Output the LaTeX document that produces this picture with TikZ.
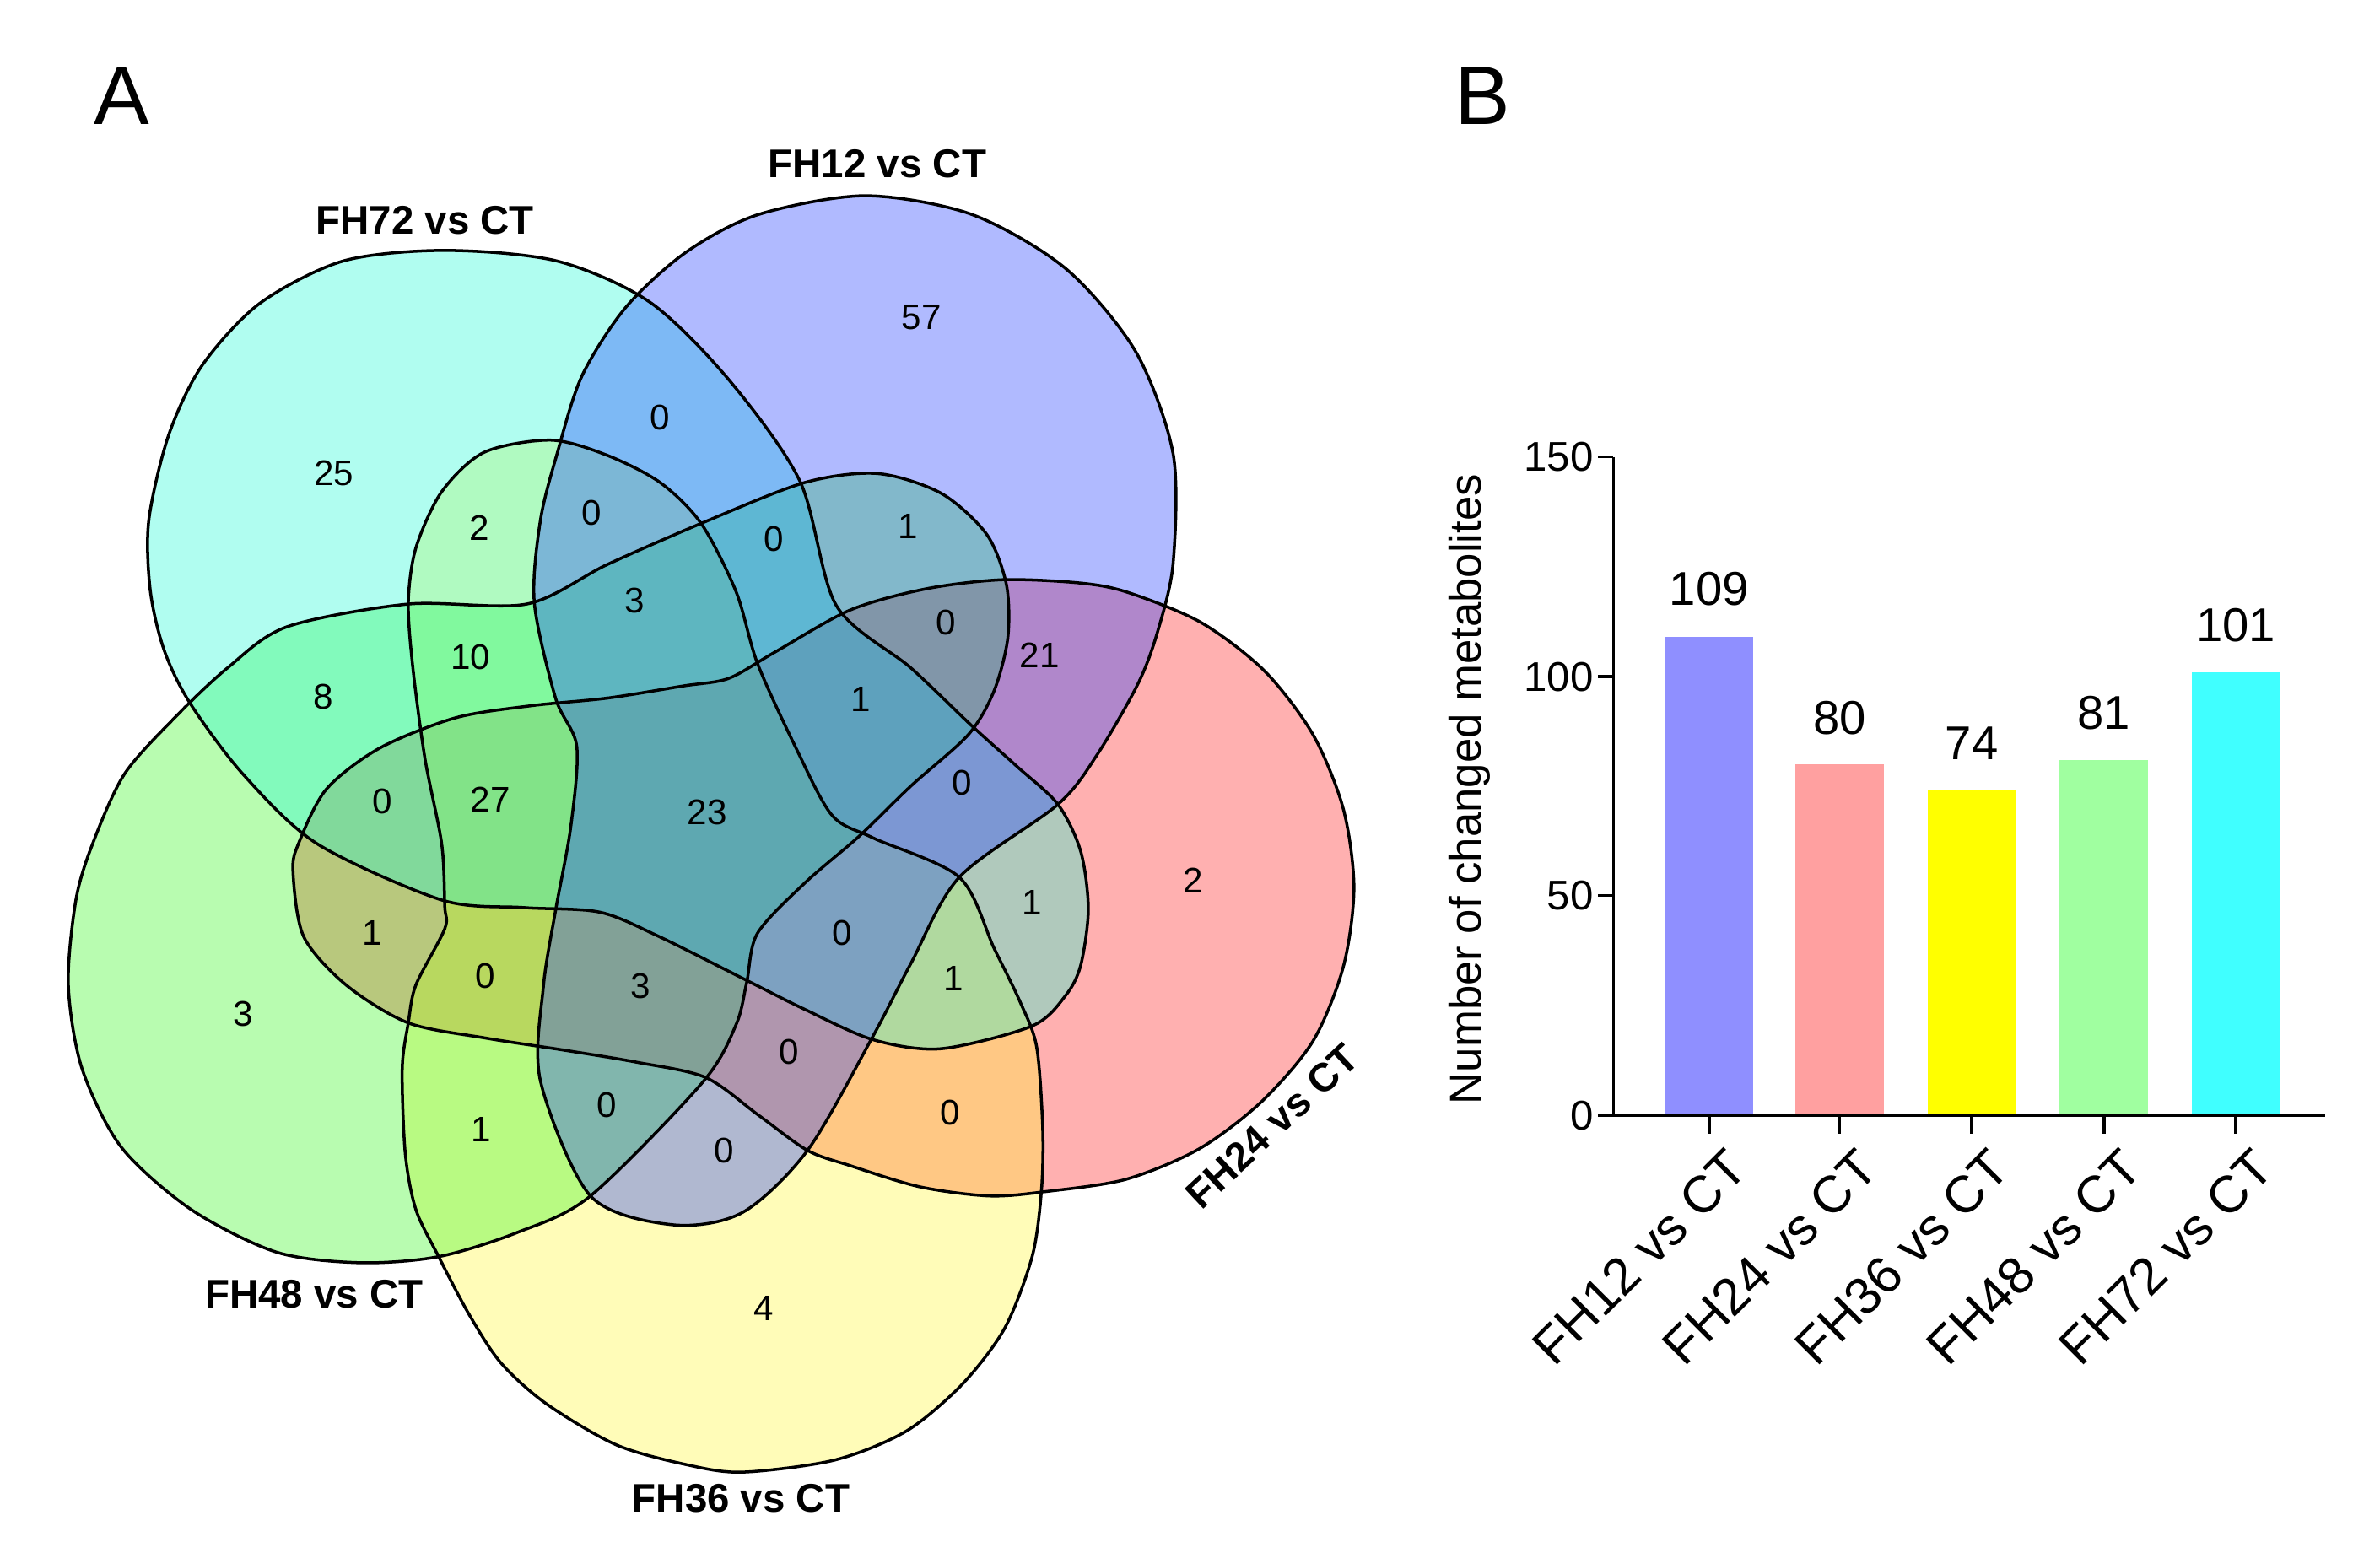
\documentclass[tikz,border=0pt]{standalone}
\usepackage{fontspec}
\setmainfont{Liberation Sans}
\usetikzlibrary{positioning}
\definecolor{vblue}{RGB}{29,58,255}
\definecolor{vpink}{RGB}{255,29,29}
\definecolor{vyellow}{RGB}{255,246,52}
\definecolor{vgreen}{RGB}{52,246,29}
\definecolor{vcyan}{RGB}{29,249,212}
\definecolor{bblue}{RGB}{143,143,255}
\definecolor{bpink}{RGB}{255,160,160}
\definecolor{byellow}{RGB}{255,255,0}
\definecolor{bgreen}{RGB}{160,255,160}
\definecolor{bcyan}{RGB}{64,255,255}

% the five sets, traced
\newcommand{\setFHtwelve}{plot[smooth cycle] coordinates {(570,129) (640.5,141.4) (702.4,177.2) (748.4,232) (772.9,299.2) (772.9,370.8) (763,415) (750,450) (723,497) (697,530) (632,578) (600,635) (575,683) (532,758) (489,799) (443,807) (389,788) (356,712) (358,650) (366,600) (376,545) (380,492) (366,460) (352,397) (356,343) (367,299) (383.3,247.9) (412.2,202.6) (451.8,166.3) (499.5,141.4)}}
\newcommand{\setFHtwentyfour}{plot[smooth cycle] coordinates {(193,574) (197,555) (215,520) (250,493) (300,473) (350,465) (400,460) (450,452) (480,447) (510,430) (560,402) (610,388) (660,382) (710,384) (742,390) (791,410) (833,442) (865,484) (885,533) (892,585) (885,637) (865,686) (831,726) (790,757) (742,777) (690,785) (652,788) (606,782) (560,768) (532,758) (500,735) (465,710) (420,700) (372,692) (320,684) (269,674) (228,649) (200,617)}}
\newcommand{\setFHthirtysix}{plot[smooth cycle] coordinates {(363,290) (400,300) (435,318) (462,345) (485,390) (499,437) (524,492) (548,537) (575,552) (632,578) (655,625) (672,660) (683,690) (687,745) (686,786) (680,828) (662,875) (634,912) (597,943) (550,962) (489,970) (452,965) (406,952) (360,925) (330,898) (309,866) (289,828) (274,797) (267,760) (265,704) (269,674) (274,649) (293,612) (293,597) (291,556) (280,500) (272,440) (269,397) (274,361) (291,324) (319,298)}}
\newcommand{\setFHfortyeight}{plot[smooth cycle] coordinates {(61,556) (50,593) (45,649) (54,704) (80,756) (126,797) (182,825) (237,832) (289,828) (341,812) (389,788) (463,713) (485,675) (492,647) (499,615) (530,582) (566,551) (600,518) (638,484) (655,455) (664,420) (663,385) (650,352) (620,325) (578,312) (530,318) (464,344) (400,372) (347,398) (269,398) (189,413) (150,440) (116,472) (82,510)}}
\newcommand{\setFHseventytwo}{plot[smooth cycle] coordinates {(293,165) (367,172) (428,199) (480,250) (527,317) (551,399) (600,440) (640,478) (670,505) (697,530) (712,561) (717,599) (712,636) (702,656) (680,676) (620,691) (575,685) (530,665) (492,646) (434,617) (395,601) (345,598) (291,593) (209,556) (160,510) (125,463) (108,428) (99,389) (98,343) (111,287) (133,241) (171,200) (226,172)}}

\begin{document}
\begin{tikzpicture}[x=0.1799mm,y=-0.1799mm,
  vennfill/.style={fill opacity=0.35},
  vennline/.style={draw=black,line width=1pt},
  setlabel/.style={font=\bfseries\fontsize{13.5}{15}\selectfont},
  num/.style={font=\fontsize{12}{14}\selectfont,inner sep=0pt},
  panel/.style={font=\fontsize{28}{30}\selectfont},
  axis/.style={line width=1.1pt},
  ticklab/.style={font=\fontsize{14}{16}\selectfont,anchor=east,inner sep=0pt},
  barlab/.style={font=\fontsize{17.5}{19}\selectfont,anchor=north east,rotate=45,inner sep=1pt},
  barval/.style={font=\fontsize{16}{18}\selectfont,inner sep=0pt}]
	\useasboundingbox (0,0) rectangle (1568,1023);
	\node[panel] (pA) at (80,63) {A};
	\node[panel] (pB) at (977,63) {B};
	% Venn fills
	\fill[vpink,vennfill] \setFHtwentyfour;
	\fill[vyellow,vennfill] \setFHthirtysix;
	\fill[vgreen,vennfill] \setFHfortyeight;
	\fill[vcyan,vennfill] \setFHseventytwo;
	\fill[vblue,vennfill] \setFHtwelve;
	\draw[vennline] \setFHtwelve;
	\draw[vennline] \setFHtwentyfour;
	\draw[vennline] \setFHthirtysix;
	\draw[vennline] \setFHfortyeight;
	\draw[vennline] \setFHseventytwo;
	% set names
	\node[setlabel] (l12) at (578,108) {FH12 vs CT};
	\node[setlabel] (l72) at (280,145) {FH72 vs CT};
	\node[setlabel] (l48) at (207,853) {FH48 vs CT};
	\node[setlabel] (l36) at (488,987) {FH36 vs CT};
	\node[setlabel,rotate=43] (l24) at (838,742) {FH24 vs CT};
	% counts
	\node[num] (r1) at (607,209) {57};
	\node[num] (r2) at (435,275) {0};
	\node[num] (r3) at (220,312) {25};
	\node[num] (r4) at (316,348) {2};
	\node[num] (r5) at (390,338) {0};
	\node[num] (r6) at (510,355) {0};
	\node[num] (r7) at (598,347) {1};
	\node[num] (r8) at (418,396) {3};
	\node[num] (r9) at (623,410) {0};
	\node[num] (r10) at (685,432) {21};
	\node[num] (r11) at (213,459) {8};
	\node[num] (r12) at (310,433) {10};
	\node[num] (r13) at (567,461) {1};
	\node[num] (r14) at (252,528) {0};
	\node[num] (r15) at (323,527) {27};
	\node[num] (r16) at (466,535) {23};
	\node[num] (r17) at (634,516) {0};
	\node[num] (r18) at (786,580) {2};
	\node[num] (r19) at (680,595) {1};
	\node[num] (r20) at (245,615) {1};
	\node[num] (r21) at (320,643) {0};
	\node[num] (r22) at (422,650) {3};
	\node[num] (r23) at (555,615) {0};
	\node[num] (r24) at (628,645) {1};
	\node[num] (r25) at (160,668) {3};
	\node[num] (r26) at (520,693) {0};
	\node[num] (r27) at (626,733) {0};
	\node[num] (r28) at (317,744) {1};
	\node[num] (r29) at (400,728) {0};
	\node[num] (r30) at (477,758) {0};
	\node[num] (r31) at (503,862) {4};
	% bar chart
	\coordinate (origin) at (1063,735);
	\coordinate (ytop) at (1063,301);
	\coordinate (xend) at (1532,735);
	\fill[bblue] (1097,735) rectangle (1155,419.6);
	\fill[bpink] (1183,735) rectangle (1241,503.5);
	\fill[byellow] (1270,735) rectangle (1328,520.9);
	\fill[bgreen] (1357,735) rectangle (1415,500.6);
	\fill[bcyan] (1444,735) rectangle (1502,442.8);
	\node[barval] (v12) at (1126,388) {109};
	\node[barval] (v24) at (1212,473) {80};
	\node[barval] (v36) at (1299,490) {74};
	\node[barval] (v48) at (1386,470) {81};
	\node[barval] (v72) at (1473,412) {101};
	\draw[axis] (ytop) -- (origin) -- (xend);
	\draw[axis] (1053,301) -- (1063,301);
	\draw[axis] (1053,446) -- (1063,446);
	\draw[axis] (1053,590) -- (1063,590);
	\draw[axis] (1053,735) -- (1063,735);
	\node[ticklab] (y150) at (1050,301) {150};
	\node[ticklab] (y100) at (1050,446) {100};
	\node[ticklab] (y50) at (1050,590) {50};
	\node[ticklab] (y0) at (1050,735) {0};
	\draw[axis] (1126,735) -- (1126,747);
	\draw[axis] (1212,735) -- (1212,747);
	\draw[axis] (1299,735) -- (1299,747);
	\draw[axis] (1386,735) -- (1386,747);
	\draw[axis] (1473,735) -- (1473,747);
	\node[barlab] (x12) at (1136,752) {FH12 vs CT};
	\node[barlab] (x24) at (1222,752) {FH24 vs CT};
	\node[barlab] (x36) at (1309,752) {FH36 vs CT};
	\node[barlab] (x48) at (1396,752) {FH48 vs CT};
	\node[barlab] (x72) at (1483,752) {FH72 vs CT};
	\node[rotate=90,font=\fontsize{15}{17}\selectfont] (ylab) at (968,520) {Number of changed metabolites};
\end{tikzpicture}
\end{document}
